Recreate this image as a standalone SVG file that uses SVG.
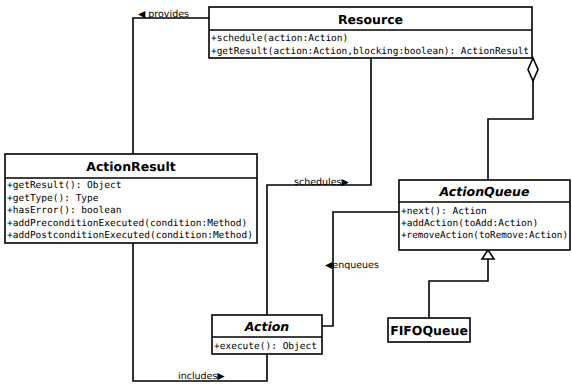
<svg xmlns="http://www.w3.org/2000/svg" width="572" height="384" viewBox="0 0 572 384">
<style>
text{text-rendering:geometricPrecision}
.box{fill:#fff;stroke:#000;stroke-width:1.6}
.ln{fill:none;stroke:#000;stroke-width:1.6}
.t{font-family:"DejaVu Sans",sans-serif;font-weight:bold;font-size:12.5px;text-anchor:middle}
.ti{font-style:italic}
.m{font-family:"DejaVu Sans Mono",monospace;font-size:9.5px}
.l{font-family:"DejaVu Sans",sans-serif;font-size:9.5px}
</style>
<rect width="572" height="384" fill="#fff"/>
<g id="connectors">
<path class="ln" d="M209 18 H133 V154"/>
<path class="ln" d="M371 58 V185 H267 V315"/>
<path class="ln" d="M133 243 V381 H267 V354"/>
<path class="ln" d="M322 326 H333 V212 H399"/>
<path class="ln" d="M533 81 V119 H488 V180"/>
<polygon class="box" points="533,58 538,69.5 533,81 528,69.5"/>
<path class="ln" d="M488 259 V281 H429 V318"/>
<polygon class="box" points="488,250 494,259 482,259"/>
<text class="l" x="138" y="17">◀ provides</text>
<text class="l" x="294" y="185">schedules▶</text>
<text class="l" x="325" y="267.5">◀enqueues</text>
<text class="l" x="178" y="379">includes▶</text>
</g>
<g id="Resource">
<rect class="box" x="209" y="7" width="323" height="51"/>
<line class="ln" x1="209" y1="30" x2="532" y2="30"/>
<text class="t" x="370.5" y="24">Resource</text>
<text class="m" x="211" y="40.5">+schedule(action:Action)</text>
<text class="m" x="211" y="53.5" textLength="318" lengthAdjust="spacingAndGlyphs">+getResult(action:Action,blocking:boolean): ActionResult</text>
</g>
<g id="ActionResult">
<rect class="box" x="5" y="154" width="252" height="89"/>
<line class="ln" x1="5" y1="178" x2="257" y2="178"/>
<text class="t" x="131" y="171">ActionResult</text>
<text class="m" x="7" y="188">+getResult(): Object</text>
<text class="m" x="7" y="200.5">+getType(): Type</text>
<text class="m" x="7" y="213">+hasError(): boolean</text>
<text class="m" x="7" y="225.5">+addPreconditionExecuted(condition:Method)</text>
<text class="m" x="7" y="238">+addPostconditionExecuted(condition:Method)</text>
</g>
<g id="ActionQueue">
<rect class="box" x="399" y="180" width="171" height="70"/>
<line class="ln" x1="399" y1="202" x2="570" y2="202"/>
<text class="t ti" x="484.5" y="196">ActionQueue</text>
<text class="m" x="401" y="213.5">+next(): Action</text>
<text class="m" x="401" y="226">+addAction(toAdd:Action)</text>
<text class="m" x="401" y="238" textLength="167" lengthAdjust="spacingAndGlyphs">+removeAction(toRemove:Action)</text>
</g>
<g id="Action">
<rect class="box" x="212" y="315" width="110" height="39"/>
<line class="ln" x1="212" y1="337" x2="322" y2="337"/>
<text class="t ti" x="267" y="331">Action</text>
<text class="m" x="214" y="348.5">+execute(): Object</text>
</g>
<g id="FIFOQueue">
<rect class="box" x="388" y="318" width="82" height="24"/>
<text class="t" x="429" y="335">FIFOQueue</text>
</g>
</svg>
